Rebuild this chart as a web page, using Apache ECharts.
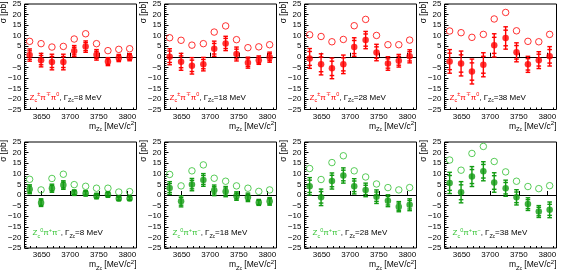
<!DOCTYPE html>
<html><head><meta charset="utf-8">
<script src="https://cdn.jsdelivr.net/npm/echarts@6/dist/echarts.min.js"></script>
<style>html,body{margin:0;padding:0;background:#fff}#c{width:568px;height:271px}</style>
</head><body><div id="c"></div>
<script>
// ---- data ----
const xs = [3629, 3649, 3668, 3688, 3707, 3727, 3746, 3766, 3785, 3804];
const xMajorTicks = [3650, 3700, 3750, 3800];
const xMinorTicks = [3620, 3630, 3640, 3660, 3670, 3680, 3690, 3710, 3720, 3730, 3740, 3760, 3770, 3780, 3790, 3810];
const widthsMeV = [8, 18, 28, 38];

// Zc± π∓ π0 (red)
const redOpen8  = [7.3, 6.2, 4.6, 4.9, 8.4, 10.9, 6.2, 2.9, 3.5, 3.8];
const redVal8   = [0.8, -1.6, -2.5, -2.5, 2.7, 4.8, 0.9, -2.3, -0.6, -0.2];
const redTot8   = [2.9, 3.2, 3.7, 3.7, 2.6, 2.7, 2.5, 1.9, 1.7, 1.7];
const redStat8  = [2.0, 2.2, 2.6, 2.6, 1.8, 1.9, 1.7, 1.3, 1.2, 1.2];

const redOpen18 = [9.0, 7.8, 5.5, 6.2, 11.7, 14.6, 8.1, 4.3, 4.7, 5.7];
const redVal18  = [0.0, -2.4, -4.3, -3.5, 3.8, 6.3, 1.3, -2.8, -1.6, -0.2];
const redTot18  = [3.8, 4.0, 3.9, 3.2, 3.6, 3.4, 3.3, 2.6, 2.0, 2.4];
const redStat18 = [2.7, 2.8, 2.7, 2.2, 2.5, 2.4, 2.3, 1.8, 1.4, 1.7];

const redOpen28 = [10.4, 9.6, 7.1, 8.2, 14.7, 17.7, 10.1, 5.7, 5.7, 7.9];
const redVal28  = [-0.8, -3.6, -5.5, -3.6, 4.6, 7.9, 2.0, -3.2, -1.9, 0.2];
const redTot28  = [4.7, 5.0, 4.9, 4.4, 4.4, 4.1, 3.9, 3.2, 3.0, 3.1];
const redStat28 = [3.3, 3.5, 3.4, 3.1, 3.1, 2.9, 2.7, 2.2, 2.1, 2.2];

const redOpen38 = [12.2, 11.4, 9.2, 10.6, 17.9, 21.0, 12.3, 7.3, 7.1, 10.6];
const redVal38  = [-2.2, -3.2, -7.0, -3.8, 5.4, 8.9, 2.1, -3.6, -1.6, 0.2];
const redTot38  = [5.6, 5.9, 5.9, 5.7, 5.5, 5.3, 4.5, 3.8, 4.0, 4.6];
const redStat38 = [3.9, 4.1, 4.1, 4.0, 3.8, 3.7, 3.2, 2.7, 2.8, 3.2];

// Zc0 π+ π- (green)
const grnOpen8  = [7.4, 2.4, 7.8, 9.8, 4.9, 4.1, 3.2, 3.2, 1.4, 1.6];
const grnVal8   = [2.7, -3.6, 3.2, 4.7, 1.1, 0.8, -0.5, 0.2, -1.7, -1.6];
const grnTot8   = [2.1, 1.8, 1.9, 2.0, 1.3, 1.3, 1.3, 1.3, 1.0, 1.0];
const grnStat8  = [1.5, 1.3, 1.3, 1.4, 0.9, 0.9, 0.9, 0.9, 0.7, 0.7];

const grnOpen18 = [9.7, 4.3, 11.4, 14.2, 7.9, 6.5, 4.3, 3.2, 1.7, 2.4];
const grnVal18  = [3.3, -3.0, 4.9, 7.1, 2.2, 1.6, -0.5, -1.1, -3.5, -3.0];
const grnTot18  = [3.0, 2.6, 2.9, 3.0, 2.5, 2.4, 2.0, 2.0, 1.4, 1.8];
const grnStat18 = [2.1, 1.8, 2.0, 2.1, 1.7, 1.7, 1.4, 1.4, 1.0, 1.3];

const grnOpen28 = [12.5, 7.3, 15.3, 18.5, 11.4, 8.5, 5.2, 3.5, 2.4, 3.5];
const grnVal28  = [4.1, -1.1, 6.6, 9.2, 4.1, 2.4, -0.8, -2.7, -5.5, -4.6];
const grnTot28  = [4.1, 3.9, 3.8, 3.6, 3.6, 3.2, 3.2, 2.8, 2.4, 2.8];
const grnStat28 = [2.9, 2.7, 2.7, 2.5, 2.5, 2.2, 2.2, 2.0, 1.7, 2.0];

const grnOpen38 = [16.5, 11.7, 19.6, 22.9, 15.8, 10.9, 6.5, 4.0, 3.0, 4.4];
const grnVal38  = [5.7, 1.3, 8.7, 11.2, 5.9, 3.2, -1.1, -4.3, -7.8, -7.0];
const grnTot38  = [5.0, 5.0, 4.7, 4.5, 4.6, 3.8, 3.6, 3.0, 2.8, 3.7];
const grnStat38 = [3.5, 3.5, 3.3, 3.2, 3.2, 2.7, 2.5, 2.1, 2.0, 2.6];

// ---- layout / style ----
const RED = '#ff0000';
const GRN = '#129b12';
const GRN_OPEN = '#2fbf2f';
const GRN_TXT = '#33c433';
const FONT = 'Liberation Sans, Arial, sans-serif';

const panels = [
  {open: redOpen8,  val: redVal8,  tot: redTot8,  stat: redStat8,  w: widthsMeV[0], row: 0, col: 0},
  {open: redOpen18, val: redVal18, tot: redTot18, stat: redStat18, w: widthsMeV[1], row: 0, col: 1},
  {open: redOpen28, val: redVal28, tot: redTot28, stat: redStat28, w: widthsMeV[2], row: 0, col: 2},
  {open: redOpen38, val: redVal38, tot: redTot38, stat: redStat38, w: widthsMeV[3], row: 0, col: 3},
  {open: grnOpen8,  val: grnVal8,  tot: grnTot8,  stat: grnStat8,  w: widthsMeV[0], row: 1, col: 0},
  {open: grnOpen18, val: grnVal18, tot: grnTot18, stat: grnStat18, w: widthsMeV[1], row: 1, col: 1},
  {open: grnOpen28, val: grnVal28, tot: grnTot28, stat: grnStat28, w: widthsMeV[2], row: 1, col: 2},
  {open: grnOpen38, val: grnVal38, tot: grnTot38, stat: grnStat38, w: widthsMeV[3], row: 1, col: 3}
];

const G_LEFT = [24.5, 164.5, 304.5, 444.5];
const G_TOP = [3.5, 142];
const G_W = 112, G_H = 106;

const grid = [], xAxis = [], yAxis = [], series = [], title = [], graphic = [];

const N = 'normal';
const rich = {
  r:   {fontFamily: FONT, fontWeight: N, fontSize: 8, color: RED, lineHeight: 12},
  rs:  {fontFamily: FONT, fontWeight: N, fontSize: 5.5, color: RED, lineHeight: 7, verticalAlign: 'bottom'},
  rp:  {fontFamily: FONT, fontWeight: N, fontSize: 5.5, color: RED, lineHeight: 7, verticalAlign: 'top'},
  g:   {fontFamily: FONT, fontWeight: N, fontSize: 8, color: GRN_TXT, lineHeight: 12},
  gs:  {fontFamily: FONT, fontWeight: N, fontSize: 5.5, color: GRN_TXT, lineHeight: 7, verticalAlign: 'bottom'},
  gp:  {fontFamily: FONT, fontWeight: N, fontSize: 5.5, color: GRN_TXT, lineHeight: 7, verticalAlign: 'top'},
  k:   {fontFamily: FONT, fontWeight: N, fontSize: 8, color: '#000', lineHeight: 12},
  ks:  {fontFamily: FONT, fontWeight: N, fontSize: 5.5, color: '#000', lineHeight: 7, verticalAlign: 'bottom'},
  kss: {fontFamily: FONT, fontWeight: N, fontSize: 4.5, color: '#000', lineHeight: 5, verticalAlign: 'bottom'},
  m:   {fontFamily: FONT, fontWeight: N, fontSize: 8.5, color: '#000', lineHeight: 12},
  ms:  {fontFamily: FONT, fontWeight: N, fontSize: 6, color: '#000', lineHeight: 7, verticalAlign: 'bottom'},
  mss: {fontFamily: FONT, fontWeight: N, fontSize: 4.5, color: '#000', lineHeight: 5, verticalAlign: 'bottom'},
  mp:  {fontFamily: FONT, fontWeight: N, fontSize: 6, color: '#000', lineHeight: 7, verticalAlign: 'top'}
};

panels.forEach((p, i) => {
  const left = G_LEFT[p.col], top = G_TOP[p.row];
  const isRed = p.row === 0;
  const cFill = isRed ? RED : GRN;
  const cOpen = isRed ? RED : GRN_OPEN;
  grid.push({left: left, top: top, width: G_W, height: G_H, show: true,
    borderColor: '#000', borderWidth: 1, backgroundColor: 'transparent'});
  xAxis.push({type: 'value', gridIndex: i, min: 3620, max: 3816,
    axisLine: {show: false},
    axisTick: {show: true, inside: true, length: 4, customValues: xMajorTicks, lineStyle: {color: '#000'}},
    axisLabel: {show: true, margin: 3, customValues: xMajorTicks, fontFamily: FONT, fontSize: 8, color: '#000',
      formatter: v => String(v)},
    splitLine: {show: false}});
  xAxis.push({type: 'value', gridIndex: i, min: 3620, max: 3816, position: 'bottom',
    axisLine: {show: false},
    axisTick: {show: true, inside: true, length: 2, customValues: xMinorTicks, lineStyle: {color: '#000'}},
    axisLabel: {show: false},
    splitLine: {show: false}});
  yAxis.push({type: 'value', gridIndex: i, min: -25, max: 25, interval: 5,
    axisLine: {show: false},
    axisTick: {show: true, inside: true, length: 4, lineStyle: {color: '#000'}},
    minorTick: {show: true, splitNumber: 5, length: 2, lineStyle: {color: '#000'}},
    axisLabel: {margin: 3, fontFamily: FONT, fontSize: 8, color: '#000',
      formatter: v => String(v).replace('-', '\u2212')},
    splitLine: {show: false}});

  const xi = 2 * i;
  series.push({type: 'scatter', xAxisIndex: xi, yAxisIndex: i, symbol: 'circle', symbolSize: 6.5,
    itemStyle: {color: 'rgba(255,255,255,0)', borderColor: cOpen, borderWidth: 1}, silent: true, z: 3,
    data: xs.map((x, j) => [x, p.open[j]])});
  series.push({type: 'custom', xAxisIndex: xi, yAxisIndex: i, silent: true, z: 4,
    data: xs.map((x, j) => [x, p.val[j], p.tot[j], p.stat[j]]),
    renderItem: (params, api) => {
      const x = api.value(0), y = api.value(1), t = api.value(2), s = api.value(3);
      const a = api.coord([x, y + t]), b = api.coord([x, y - t]);
      const c = api.coord([x, y + s]), d = api.coord([x, y - s]);
      const cx = a[0], hw = 2.3;
      const st = {stroke: cFill, lineWidth: 1.4};
      const cap = yy => ({type: 'line', shape: {x1: cx - hw, y1: yy, x2: cx + hw, y2: yy}, style: st});
      return {type: 'group', children: [
        {type: 'line', shape: {x1: cx, y1: a[1], x2: cx, y2: b[1]}, style: st},
        cap(a[1]), cap(b[1]), cap(c[1]), cap(d[1])
      ]};
    }});
  series.push({type: 'scatter', xAxisIndex: xi, yAxisIndex: i, symbol: 'circle', symbolSize: 6.5,
    itemStyle: {color: cFill}, silent: true, z: 5,
    data: xs.map((x, j) => [x, p.val[j]]),
    markLine: {silent: true, symbol: 'none', animation: false, z: 2,
      lineStyle: {color: '#000', width: 1, type: 'solid'}, label: {show: false},
      data: [{yAxis: 0}]}});

  const ch = isRed
    ? '{r|Z}{rs|c}{rp|±}{r|π}{rp|∓}{r|π}{rp|0}'
    : '{g|Z}{gs|c}{gp|0}{g|π}{gp|+}{g|π}{gp|−}';
  title.push({text: ch + '{k|, Γ}{ks|Z}{kss|c}{k|=' + p.w + ' MeV}',
    left: left + (isRed ? 5 : 8), top: top + (isRed ? 88 : 85), padding: 0,
    textStyle: {fontWeight: N, rich: rich}});
  title.push({text: '{m|m}{ms|Z}{mss|c}{m| [MeV/c}{mp|2}{m|]}',
    right: 568 - (left + G_W), top: top + 117, padding: 0, textStyle: {fontWeight: N, rich: rich}});
  graphic.push({type: 'text', x: left - 21, y: top - 2, rotation: Math.PI / 2,
    style: {text: 'σ [pb]', font: '8.5px ' + FONT, fill: '#000', align: 'right', verticalAlign: 'middle'}});
});

const chart = echarts.init(document.getElementById('c'), null, {renderer: 'canvas'});
chart.setOption({animation: false, backgroundColor: '#fff', grid, xAxis, yAxis, series, title, graphic});
</script>
</body></html>
